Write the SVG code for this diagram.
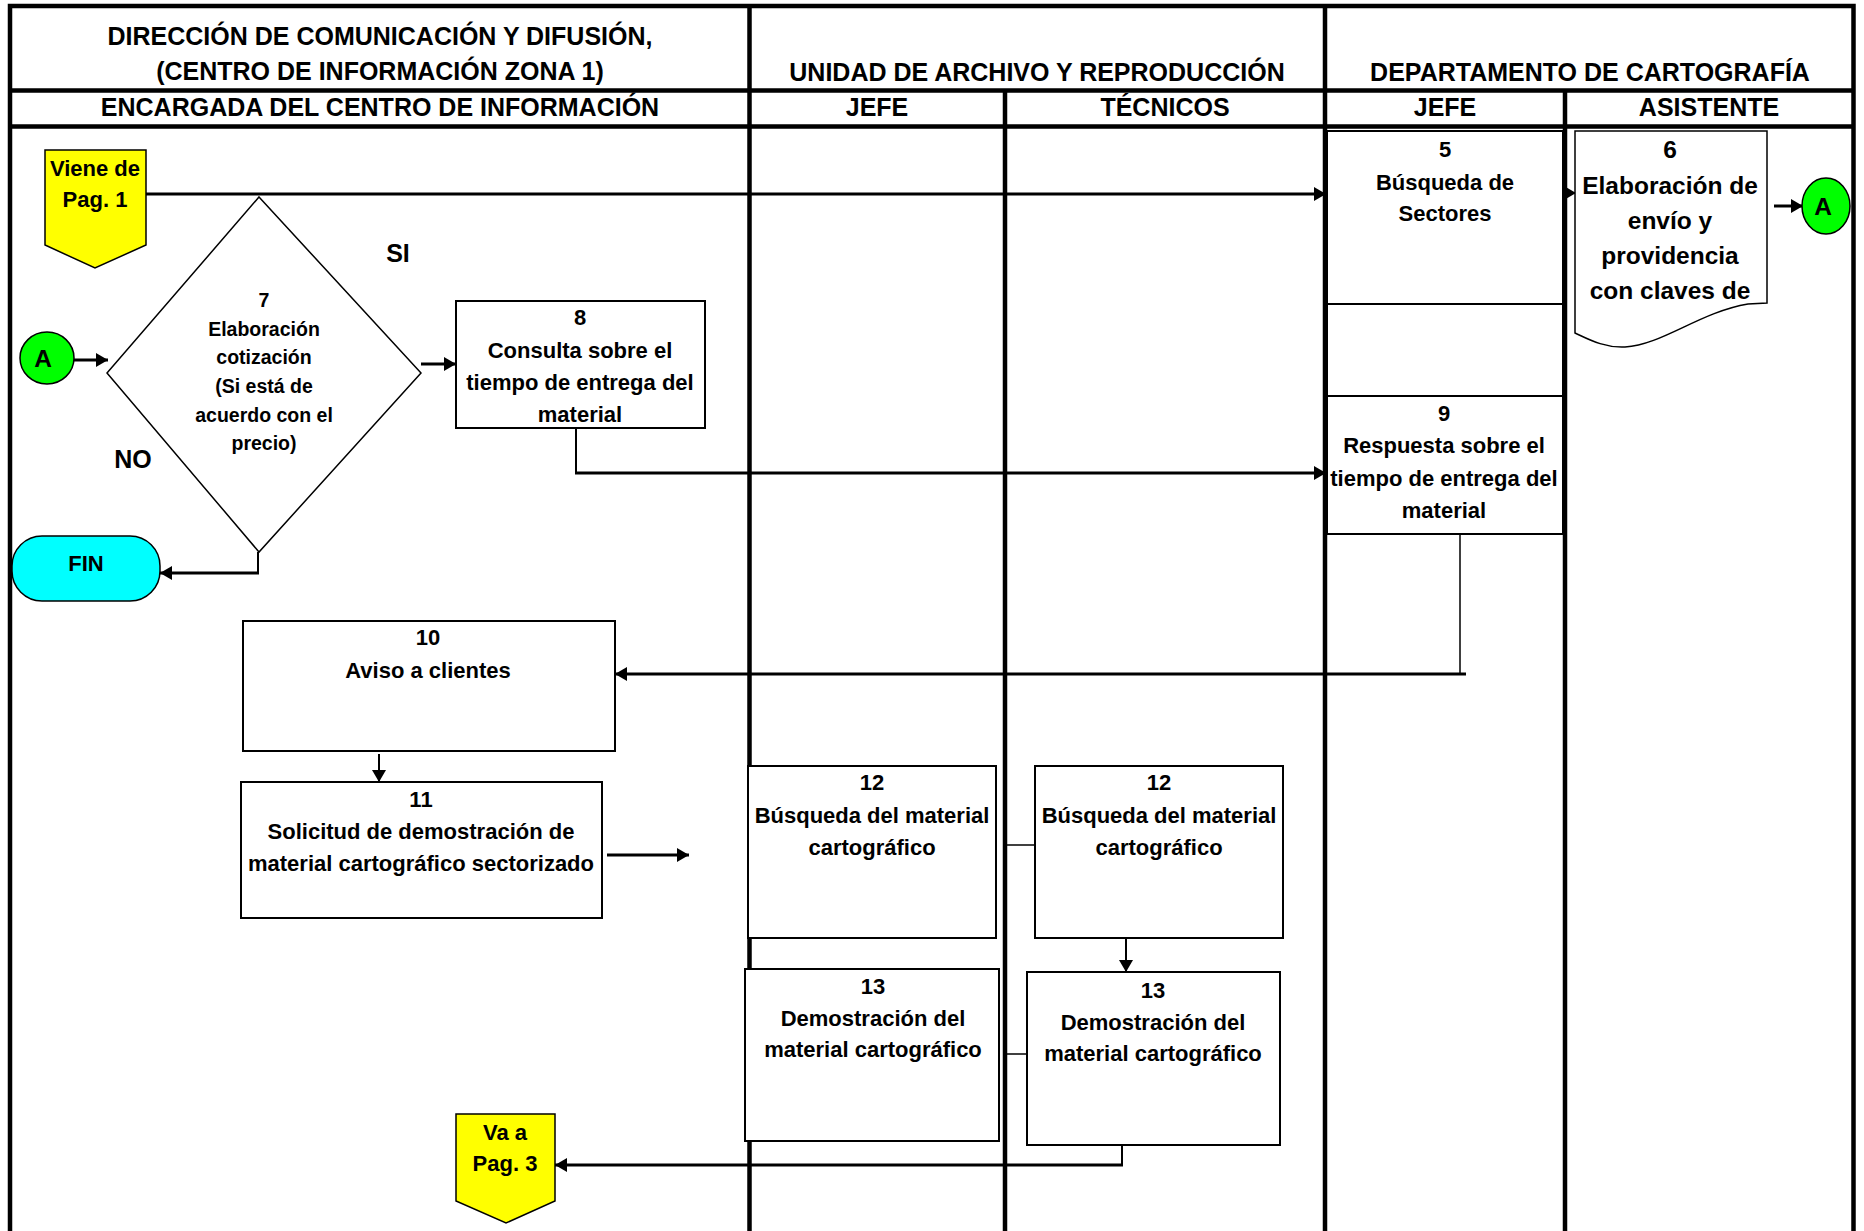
<svg xmlns="http://www.w3.org/2000/svg" width="1864" height="1231" viewBox="0 0 1864 1231">
  <style>
    .lane{stroke:#000;stroke-width:4.5;fill:none}
    .box{fill:#fff;stroke:#000;stroke-width:2}
    .t{font-family:'Liberation Sans',Arial,sans-serif;font-weight:bold;text-anchor:middle;fill:#000}
    .h{font-size:25px}
    .b{font-size:22px}
    .big{font-size:24.5px}
    .d{font-size:19.5px}
    .c{stroke:#000;fill:none}
    .c3{stroke-width:3}
    .c2{stroke-width:2}
    .c1{stroke-width:1.5}
  </style>
  <defs>
    <marker id="ah" markerUnits="userSpaceOnUse" markerWidth="13" markerHeight="14" refX="12" refY="7" orient="auto">
      <path d="M0,0 L12,7 L0,14 z" fill="#000"/>
    </marker>
  </defs>
  <rect width="1864" height="1231" fill="#fff"/>

  <!-- swimlane grid -->
  <g id="lanes">
    <path class="lane" d="M10,1231 V6 H1853.5 V1231"/>
    <path class="lane" d="M10,90.5 H1853.5 M10,126.5 H1853.5"/>
    <path class="lane" d="M749.5,6 V1231 M1325,6 V1231 M1005,90.5 V1231 M1565,90.5 V1231"/>
  </g>

  <!-- lane titles -->
  <g id="headers" class="t h">
    <text x="380" y="45">DIRECCIÓN DE COMUNICACIÓN Y DIFUSIÓN,</text>
    <text x="380" y="80">(CENTRO DE INFORMACIÓN ZONA 1)</text>
    <text x="380" y="116">ENCARGADA DEL CENTRO DE INFORMACIÓN</text>
    <text x="1037" y="81">UNIDAD DE ARCHIVO Y REPRODUCCIÓN</text>
    <text x="1590" y="81">DEPARTAMENTO DE CARTOGRAFÍA</text>
    <text x="877" y="116">JEFE</text>
    <text x="1165" y="116">TÉCNICOS</text>
    <text x="1445" y="116">JEFE</text>
    <text x="1709" y="116">ASISTENTE</text>
  </g>

  <!-- connectors -->
  <g id="connectors" class="c">
    <path class="c3" d="M146,194 H1326" marker-end="url(#ah)"/>
    <path class="c2" d="M1565,193 H1576" marker-end="url(#ah)"/>
    <path class="c3" d="M1774,206 H1803" marker-end="url(#ah)"/>
    <path class="c3" d="M74,360 H108" marker-end="url(#ah)"/>
    <path class="c3" d="M421,364 H456" marker-end="url(#ah)"/>
    <path class="c2" d="M576,428 V473"/>
    <path class="c3" d="M575,473 H1326" marker-end="url(#ah)"/>
    <path class="c2" d="M258,552 V573"/>
    <path class="c3" d="M259,573 H160" marker-end="url(#ah)"/>
    <path class="c1" d="M1460,534 V674"/>
    <path class="c3" d="M1466,674 H615" marker-end="url(#ah)"/>
    <path class="c2" d="M379,754 V782" marker-end="url(#ah)"/>
    <path class="c3" d="M607,855 H689" marker-end="url(#ah)"/>
    <path class="c1" d="M1005,845 H1044"/>
    <path class="c2" d="M1126,938 V972" marker-end="url(#ah)"/>
    <path class="c1" d="M1005,1054 H1027"/>
    <path class="c2" d="M1122,1145 V1165"/>
    <path class="c3" d="M1123,1165 H555" marker-end="url(#ah)"/>
  </g>

  <!-- off-page connector: from page 1 -->
  <g id="viene">
    <path d="M45,150 H146 V245 L95,268 L45,245 Z" fill="#ff0" stroke="#000" stroke-width="1.5"/>
    <text class="t b" x="95" y="176">Viene de</text>
    <text class="t b" x="95" y="207">Pag. 1</text>
  </g>

  <!-- on-page connector A (entry) -->
  <g id="connA-in">
    <ellipse cx="47" cy="358" rx="27" ry="26" fill="#0f0" stroke="#000" stroke-width="1.5"/>
    <text class="t big" x="43" y="367">A</text>
  </g>

  <!-- decision 7 -->
  <g id="n7">
    <path d="M259,197 L421,373 L259,552 L107,373 Z" fill="#fff" stroke="#000" stroke-width="1.5"/>
    <g class="t d">
      <text x="264" y="307">7</text>
      <text x="264" y="336">Elaboración</text>
      <text x="264" y="364">cotización</text>
      <text x="264" y="393">(Si está de</text>
      <text x="264" y="422">acuerdo con el</text>
      <text x="264" y="450">precio)</text>
    </g>
  </g>
  <g id="lbl-si"><text class="t h" x="398" y="262">SI</text></g>
  <g id="lbl-no"><text class="t h" x="133" y="468">NO</text></g>

  <!-- terminator -->
  <g id="fin">
    <rect x="12" y="536" width="148" height="65" rx="30" ry="30" fill="#0ff" stroke="#000" stroke-width="1.5"/>
    <text class="t b" x="86" y="571">FIN</text>
  </g>

  <!-- step 8 -->
  <g id="n8">
    <rect class="box" x="456" y="301" width="249" height="127"/>
    <g class="t b">
      <text x="580" y="325">8</text>
      <text x="580" y="358">Consulta sobre el</text>
      <text x="580" y="390">tiempo de entrega del</text>
      <text x="580" y="422">material</text>
    </g>
  </g>

  <!-- step 5 -->
  <g id="n5">
    <rect class="box" x="1327" y="131" width="236" height="173"/>
    <g class="t b">
      <text x="1445" y="157">5</text>
      <text x="1445" y="190">Búsqueda de</text>
      <text x="1445" y="221">Sectores</text>
    </g>
  </g>
  <g id="n5-spacer">
    <rect class="box" x="1327" y="304" width="236" height="92"/>
  </g>

  <!-- step 9 -->
  <g id="n9">
    <rect class="box" x="1327" y="396" width="236" height="138"/>
    <g class="t b">
      <text x="1444" y="421">9</text>
      <text x="1444" y="453">Respuesta sobre el</text>
      <text x="1444" y="486">tiempo de entrega del</text>
      <text x="1444" y="518">material</text>
    </g>
  </g>

  <!-- step 6 (document) -->
  <g id="n6">
    <path d="M1575,131 H1767 V303 L1748,304 C1700,312 1662,345 1625,347 C1605,348 1590,340 1575,333 Z" fill="#fff" stroke="#000" stroke-width="1.5"/>
    <g class="t big">
      <text x="1670" y="158">6</text>
      <text x="1670" y="194">Elaboración de</text>
      <text x="1670" y="229">envío y</text>
      <text x="1670" y="264">providencia</text>
      <text x="1670" y="299">con claves de</text>
    </g>
  </g>

  <!-- on-page connector A (exit) -->
  <g id="connA-out">
    <ellipse cx="1826" cy="206" rx="24" ry="28" fill="#0f0" stroke="#000" stroke-width="1.5"/>
    <text class="t big" x="1823" y="215">A</text>
  </g>

  <!-- step 10 -->
  <g id="n10">
    <rect class="box" x="243" y="621" width="372" height="130"/>
    <g class="t b">
      <text x="428" y="645">10</text>
      <text x="428" y="678">Aviso a clientes</text>
    </g>
  </g>

  <!-- step 11 -->
  <g id="n11">
    <rect class="box" x="241" y="782" width="361" height="136"/>
    <g class="t b">
      <text x="421" y="807">11</text>
      <text x="421" y="839">Solicitud de demostración de</text>
      <text x="421" y="871">material cartográfico sectorizado</text>
    </g>
  </g>

  <!-- step 12, jefe -->
  <g id="n12a">
    <rect class="box" x="748" y="766" width="248" height="172"/>
    <g class="t b">
      <text x="872" y="790">12</text>
      <text x="872" y="823">Búsqueda del material</text>
      <text x="872" y="855">cartográfico</text>
    </g>
  </g>

  <!-- step 12, técnicos -->
  <g id="n12b">
    <rect class="box" x="1035" y="766" width="248" height="172"/>
    <g class="t b">
      <text x="1159" y="790">12</text>
      <text x="1159" y="823">Búsqueda del material</text>
      <text x="1159" y="855">cartográfico</text>
    </g>
  </g>

  <!-- step 13, jefe -->
  <g id="n13a">
    <rect class="box" x="745" y="969" width="254" height="172"/>
    <g class="t b">
      <text x="873" y="994">13</text>
      <text x="873" y="1026">Demostración del</text>
      <text x="873" y="1057">material cartográfico</text>
    </g>
  </g>

  <!-- step 13, técnicos -->
  <g id="n13b">
    <rect class="box" x="1027" y="972" width="253" height="173"/>
    <g class="t b">
      <text x="1153" y="998">13</text>
      <text x="1153" y="1030">Demostración del</text>
      <text x="1153" y="1061">material cartográfico</text>
    </g>
  </g>

  <!-- off-page connector: to page 3 -->
  <g id="va">
    <path d="M456,1114 H555 V1201 L506,1223 L456,1201 Z" fill="#ff0" stroke="#000" stroke-width="1.5"/>
    <text class="t b" x="505" y="1140">Va a</text>
    <text class="t b" x="505" y="1171">Pag. 3</text>
  </g>
</svg>
